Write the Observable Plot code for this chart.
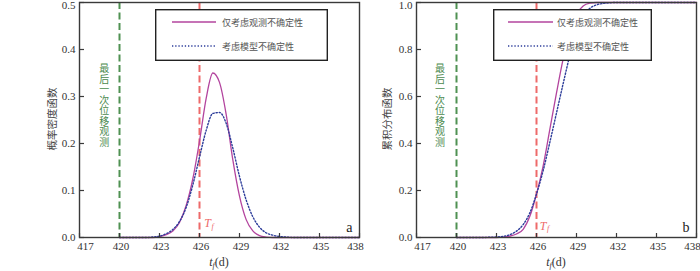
<!DOCTYPE html>
<html>
<head>
<meta charset="utf-8">
<script src="https://cdn.jsdelivr.net/npm/d3@7"></script>
<script src="https://cdn.jsdelivr.net/npm/@observablehq/plot@0.6"></script>
<style>
  html, body { margin: 0; padding: 0; background: #fff; }
  #wrap { position: relative; width: 700px; height: 271px; overflow: hidden; background: #fff; }
  .panel { position: absolute; top: 0; }
  .legend { position: absolute; top: 0; left: 0; }
  .vlabel { position: absolute; width: 14px; font-family: "Noto Sans CJK SC", sans-serif; font-size: 10px;
            line-height: 10.5px; text-align: center; color: #4b8a4e; }
  .vlabel span { display: block; }
</style>
</head>
<body>
<div id="wrap"></div>
<script>
// ---------------- data ----------------
const days = [420, 421, 422, 422.5, 423, 423.5, 424, 424.5, 425, 425.5, 426, 426.5, 427, 427.5,
              428, 428.5, 429, 429.5, 430, 430.5, 431, 431.5, 432, 432.5, 433, 435, 438];
// panel a: probability density
const pdfObs   = [0, 0, 0, 0.000, 0.002, 0.006, 0.014, 0.032, 0.068, 0.125, 0.205, 0.296, 0.350, 0.330,
                  0.262, 0.165, 0.088, 0.038, 0.014, 0.004, 0.001, 0, 0, 0, 0, 0, 0];
const pdfModel = [0, 0, 0, 0.001, 0.003, 0.008, 0.017, 0.034, 0.064, 0.112, 0.171, 0.228, 0.264, 0.266,
                  0.243, 0.190, 0.130, 0.080, 0.044, 0.022, 0.010, 0.005, 0.002, 0.001, 0, 0, 0];
// panel b: cumulative distribution
const cdfObs   = [0, 0, 0, 0, 0, 0.002, 0.006, 0.015, 0.035, 0.090, 0.185, 0.305, 0.460, 0.615,
                  0.760, 0.875, 0.950, 0.985, 0.997, 1, 1, 1, 1, 1, 1, 1, 1];
const cdfModel = [0, 0, 0, 0.001, 0.002, 0.005, 0.012, 0.027, 0.055, 0.105, 0.185, 0.285, 0.405, 0.530,
                  0.655, 0.775, 0.875, 0.945, 0.975, 0.990, 0.996, 0.999, 1, 1, 1, 1, 1];

const seriesNames = ["仅考虑观测不确定性", "考虑模型不确定性"];
const lastObsDay = 420;     // 最后一次位移观测
const failDay = 426;        // T_f
const xTicks = [417, 420, 423, 426, 429, 432, 435, 438];
const yTicksA = [0, 0.1, 0.2, 0.3, 0.4, 0.5];
const yTicksB = [0, 0.2, 0.4, 0.6, 0.8, 1.0];
const yTitles = ["概率密度函数", "累积分布函数"];
const vLabel = "最后一次位移观测";
const panelLetters = ["a", "b"];

// ---------------- styling ----------------
const C = {
  frame: "#3a3a3a", text: "#333", green: "#4f9152", greenText: "#4b8a4e",
  red: "#ee6a6a", magenta: "#b3449e", blue: "#2c3c9a"
};
const serif = '"Liberation Serif", "DejaVu Serif", serif';
const cjk = '"Noto Sans CJK SC", sans-serif';
const fmt1 = d3.format(".1f");

const rows = (vals) => days.map((d, i) => ({day: d, v: vals[i]}));
const wrap = document.getElementById("wrap");

function makePanel({obs, model, yDomain, yTicks, width, left, marginLeft, marginRight, vLabelPos, tPos, letter, yTitle, yTitleX}) {
  const innerX = xTicks.slice(1, -1);
  const innerY = yTicks.slice(0, -1);
  const svg = Plot.plot({
    width, height: 271,
    marginLeft, marginRight, marginTop: 2, marginBottom: 34,
    style: {background: "none", fontFamily: serif, fontSize: "11px", color: C.text, overflow: "visible"},
    x: {domain: [417, 438]},
    y: {domain: yDomain},
    marks: [
      Plot.ruleX([lastObsDay], {stroke: C.green, strokeWidth: 2, strokeDasharray: "7,3.5"}),
      Plot.ruleX([failDay], {stroke: C.red, strokeWidth: 2, strokeDasharray: "7,3.5"}),
      Plot.line(rows(obs), {x: "day", y: "v", stroke: C.magenta, strokeWidth: 1.3, curve: "monotone-x"}),
      Plot.line(rows(model), {x: "day", y: "v", stroke: C.blue, strokeWidth: 1.4, strokeDasharray: "1.3,1.9", curve: "monotone-x"}),
      Plot.axisX({ticks: xTicks, tickSize: -4, tickFormat: () => "", label: null, stroke: C.frame, strokeWidth: 1.2}),
      Plot.axisX({ticks: innerX, tickSize: 0, tickPadding: 5, tickFormat: d => String(d), label: null, dx: 1.5}),
      Plot.axisX({ticks: xTicks.slice(0, 1), tickSize: 0, tickPadding: 5, tickFormat: d => String(d), label: null, dx: 6}),
      Plot.axisX({ticks: xTicks.slice(-1), tickSize: 0, tickPadding: 5, tickFormat: d => String(d), label: null, dx: -4}),
      Plot.axisY({ticks: yTicks, tickSize: -5, tickFormat: () => "", label: null, stroke: C.frame, strokeWidth: 1.2}),
      Plot.axisY({ticks: innerY, tickSize: 0, tickPadding: 4, tickFormat: fmt1, label: null}),
      Plot.axisY({ticks: yTicks.slice(-1), tickSize: 0, tickPadding: 4, tickFormat: fmt1, label: null, dy: 3}),
      Plot.frame({stroke: C.frame, strokeWidth: 1.4}),
      Plot.text(["T"], {x: tPos[0], y: tPos[1], fontStyle: "italic", fontSize: 12, fontFamily: serif, fill: C.red}),
      Plot.text(["f"], {x: tPos[0], y: tPos[1], dx: 5, dy: 3, fontStyle: "italic", fontSize: 8, fontFamily: serif, fill: C.red}),
      Plot.text([letter], {frameAnchor: "bottom-right", dx: -7, dy: -6, textAnchor: "end", fontSize: 14, fontFamily: serif, fill: "#222"})
    ]
  });
  const s = d3.select(svg);
  // x-axis title t_f(d)
  const xt = s.append("text")
    .attr("x", (marginLeft + width - marginRight) / 2)
    .attr("y", 266)
    .attr("text-anchor", "middle")
    .attr("font-family", serif).attr("font-size", 12).attr("fill", C.text);
  xt.append("tspan").attr("font-style", "italic").text("t");
  xt.append("tspan").attr("font-style", "italic").attr("font-size", 8).attr("dy", 2).text("f");
  xt.append("tspan").attr("dy", -2).text("(d)");
  // y-axis title
  s.append("text")
    .attr("transform", `translate(${yTitleX},119) rotate(-90)`)
    .attr("text-anchor", "middle").attr("dominant-baseline", "central")
    .attr("font-family", cjk).attr("font-size", 10.5).attr("fill", "#444")
    .text(yTitle);
  svg.classList.add("panel");
  svg.style.left = left + "px";
  wrap.appendChild(svg);

  // vertical green label: one upright character per line (HTML overlay)
  const vx = svg.scale("x").apply(vLabelPos[0]);
  const vy = svg.scale("y").apply(vLabelPos[1]);
  const chars = Array.from(vLabel);
  const div = d3.select(wrap).append("div").attr("class", "vlabel")
    .style("left", (left + vx - 7) + "px")
    .style("top", (vy - chars.length * 10.5 / 2) + "px");
  chars.forEach(ch => div.append("span").text(ch));
  return svg;
}

function addLegend(left, width, lineStart, lineEnd, textX) {
  const top = 9, height = 52;
  const svg = d3.select(wrap).append("svg")
    .attr("class", "legend")
    .style("left", left + "px").style("top", top + "px")
    .attr("width", width).attr("height", height);
  svg.append("rect").attr("x", 0.7).attr("y", 0.7).attr("width", width - 1.4).attr("height", height - 1.4)
    .attr("fill", "#fff").attr("stroke", "#222").attr("stroke-width", 1.4);
  const ys = [13, 37];
  const styles = [{stroke: C.magenta, dash: null, w: 1.3}, {stroke: C.blue, dash: "1.3,1.9", w: 1.4}];
  seriesNames.forEach((name, i) => {
    svg.append("line").attr("x1", lineStart).attr("x2", lineEnd).attr("y1", ys[i]).attr("y2", ys[i])
      .attr("stroke", styles[i].stroke).attr("stroke-width", styles[i].w)
      .attr("stroke-dasharray", styles[i].dash);
    svg.append("text").attr("x", textX).attr("y", ys[i]).attr("dominant-baseline", "central")
      .attr("font-family", cjk).attr("font-size", 9).attr("fill", "#555").text(name);
  });
}

makePanel({obs: pdfObs, model: pdfModel, yDomain: [0, 0.5], yTicks: yTicksA,
  width: 370, left: 0, marginLeft: 79, marginRight: 11, vLabelPos: [418.9, 0.28], tPos: [426.6, 0.03],
  letter: panelLetters[0], yTitle: yTitles[0], yTitleX: 51});

makePanel({obs: cdfObs, model: cdfModel, yDomain: [0, 1], yTicks: yTicksB,
  width: 330, left: 370, marginLeft: 46, marginRight: 4, vLabelPos: [418.8, 0.56], tPos: [426.5, 0.05],
  letter: panelLetters[1], yTitle: yTitles[1], yTitleX: 16});

addLegend(155, 173, 17, 61, 67);
addLegend(493, 159, 15, 60, 64);
</script>
</body>
</html>
